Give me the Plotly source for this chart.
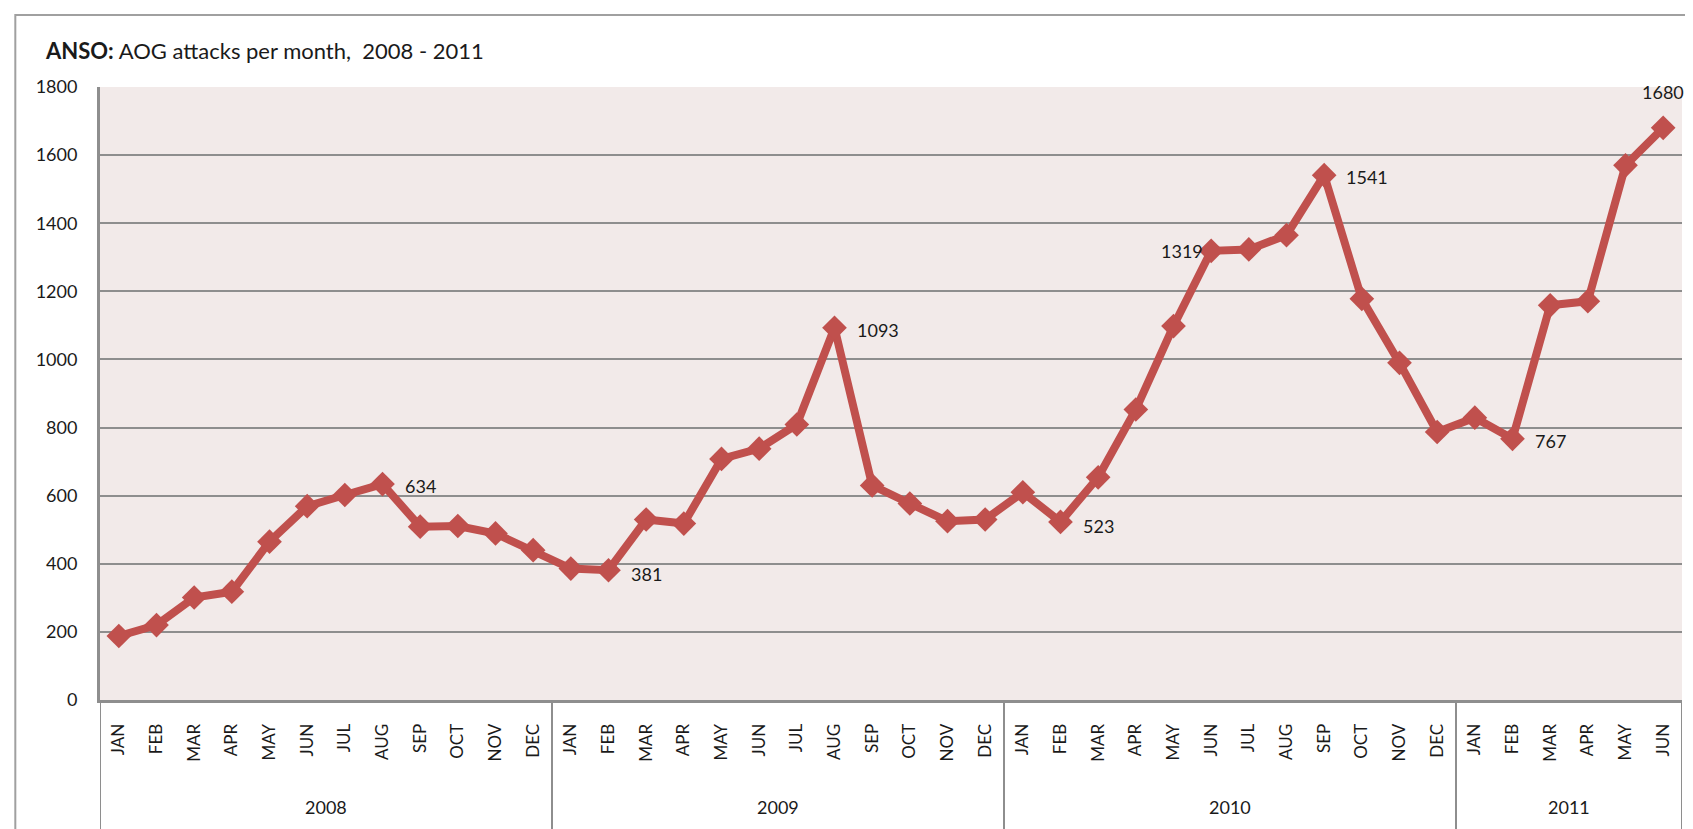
import plotly.graph_objects as go

# ---- data ----
years = ["2008"] * 12 + ["2009"] * 12 + ["2010"] * 12 + ["2011"] * 6
months = ["JAN", "FEB", "MAR", "APR", "MAY", "JUN", "JUL", "AUG", "SEP", "OCT", "NOV", "DEC"] * 3 + \
         ["JAN", "FEB", "MAR", "APR", "MAY", "JUN"]
attacks = [188, 220, 301, 318, 465, 569, 602, 634, 509, 511, 489, 440,
           386, 381, 530, 518, 708, 738, 809, 1093, 630, 577, 525, 530,
           610, 523, 654, 853, 1098, 1319, 1323, 1365, 1541, 1178, 990, 787,
           829, 767, 1159, 1171, 1570, 1680]
# labelled points: (index, text position)
label_points = [(7, "right"), (13, "right_low"), (19, "right"), (25, "right_low"),
                (29, "left"), (32, "right"), (37, "right"), (41, "top")]
y_ticks = [0, 200, 400, 600, 800, 1000, 1200, 1400, 1600, 1800]

# ---- layout geometry (pixels) ----
W, H = 1693, 829
L, R, T, B = 91.7, 1674.0, 79.0, 692.3
pw, ph = R - L, B - T


def px_x(p):
    return (p - L) / pw


def px_y(p):
    return (B - p) / ph


LINE_RED = "#C0504D"
GRID = "#8E8E8E"
FONT = "Lato, 'Open Sans', Arial, sans-serif"
TXT = "#1A1A1A"

xs = list(range(len(attacks)))

fig = go.Figure()
fig.add_trace(go.Scatter(
    x=xs, y=attacks, mode="lines+markers",
    line=dict(color=LINE_RED, width=8),
    marker=dict(symbol="diamond", size=19, color=LINE_RED),
    hoverinfo="x+y", showlegend=False,
))

annotations = []
for idx, pos in label_points:
    a = dict(x=xs[idx], y=attacks[idx], xref="x", yref="y", text=str(attacks[idx]),
             showarrow=False, font=dict(family=FONT, size=18, color=TXT))
    if pos == "right":
        a.update(xanchor="left", yanchor="middle", xshift=20, yshift=-2)
    elif pos == "right_low":
        a.update(xanchor="left", yanchor="middle", xshift=20, yshift=-4)
    elif pos == "left":
        a.update(xanchor="right", yanchor="middle", xshift=-6)
    elif pos == "top":
        a.update(xanchor="center", yanchor="middle", yshift=36)
    annotations.append(a)

# year group labels and separators
groups = []
for i, yv in enumerate(years):
    if not groups or groups[-1][0] != yv:
        groups.append([yv, i, i])
    else:
        groups[-1][2] = i

shapes = []
sep_bottom = px_y(823)
for yv, i0, i1 in groups:
    annotations.append(dict(x=(xs[i0] + xs[i1]) / 2, y=px_y(799), xref="x", yref="paper",
                            text=yv, showarrow=False, xanchor="center", yanchor="middle",
                            font=dict(family=FONT, size=18, color=TXT)))
    shapes.append(dict(type="line", xref="x", yref="paper", x0=xs[i1] + 0.5, x1=xs[i1] + 0.5,
                       y0=0, y1=sep_bottom, line=dict(color=GRID, width=2)))
shapes.append(dict(type="line", xref="x", yref="paper", x0=-0.5, x1=-0.5,
                   y0=0, y1=sep_bottom, line=dict(color=GRID, width=2)))

# outer frame
shapes.append(dict(type="rect", xref="paper", yref="paper",
                   x0=px_x(7), x1=px_x(1692), y0=px_y(840), y1=px_y(7),
                   line=dict(color="#A0A0A0", width=2), fillcolor="rgba(0,0,0,0)", layer="below"))

# title
annotations.append(dict(x=px_x(35), y=px_y(42), xref="paper", yref="paper",
                        text="<b>ANSO:</b> AOG attacks per month,  2008 - 2011",
                        showarrow=False, xanchor="left", yanchor="middle",
                        font=dict(family=FONT, size=22, color=TXT)))

fig.update_layout(
    width=W, height=H,
    margin=dict(l=L, r=W - R, t=T, b=H - B, pad=0),
    paper_bgcolor="white",
    plot_bgcolor="#F2EAE9",
    font=dict(family=FONT, color=TXT),
    annotations=annotations,
    shapes=shapes,
    xaxis=dict(
        range=[-0.5, len(attacks) - 0.5],
        tickmode="array", tickvals=xs, ticktext=months,
        tickangle=-90, tickfont=dict(family=FONT, size=17, color=TXT),
        showgrid=False, zeroline=False,
        showline=True, linecolor=GRID, linewidth=3,
        ticks="", ticklabelstandoff=14, fixedrange=True,
    ),
    yaxis=dict(
        range=[0, 1800], tickmode="array", tickvals=y_ticks,
        tickfont=dict(family=FONT, size=18, color=TXT),
        showgrid=True, gridcolor=GRID, gridwidth=2,
        zeroline=True, zerolinecolor=GRID, zerolinewidth=3,
        showline=True, linecolor=GRID, linewidth=3,
        ticks="", ticklabelstandoff=16, fixedrange=True,
    ),
)

fig.write_html("out.html")
